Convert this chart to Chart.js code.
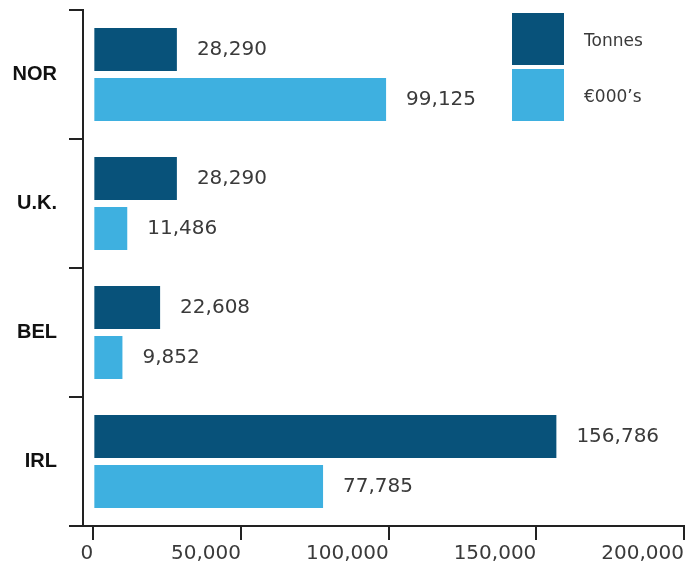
<!DOCTYPE html>
<html>
<head>
<meta charset="utf-8">
<script src="https://cdn.jsdelivr.net/npm/chart.js@4"></script>
<style>
  body { margin: 0; background: #fff; }
</style>
</head>
<body>
<canvas id="myChart" width="689" height="574"></canvas>
<script>
const countries = ['NOR', 'U.K.', 'BEL', 'IRL'];
const tonnes = [28290, 28290, 22608, 156786];
const euros = [99125, 11486, 9852, 77785];
const seriesNames = ['Tonnes', '€000\u2019s'];
const xTicks = [0, 50000, 100000, 150000, 200000];

const DARK = '#08527a';
const LIGHT = '#3eb0e0';
const INK = '#3a3a3a';
const AXIS = '#222';

const fmt = v => v.toLocaleString('en-US');

// value labels to the right of each bar
const valueLabels = {
    id: 'valueLabels',
    afterDatasetsDraw(chart) {
        const ctx = chart.ctx;
        ctx.save();
        ctx.font = '20px "DejaVu Sans"';
        ctx.fillStyle = INK;
        ctx.textAlign = 'left';
        ctx.textBaseline = 'middle';
        chart.data.datasets.forEach((ds, i) => {
            chart.getDatasetMeta(i).data.forEach((bar, j) => {
                ctx.fillText(fmt(ds.data[j]), bar.x + 20, bar.y);
            });
        });
        ctx.restore();
    }
};

// square legend in the top right corner
const boxLegend = {
    id: 'boxLegend',
    afterDraw(chart) {
        const ctx = chart.ctx;
        const area = chart.chartArea;
        const size = 52;
        const x = area.right - 172;
        ctx.save();
        ctx.font = '17px "DejaVu Sans"';
        ctx.textBaseline = 'middle';
        chart.data.datasets.forEach((ds, i) => {
            const y = 13 + i * (size + 4);
            ctx.fillStyle = ds.backgroundColor;
            ctx.fillRect(x, y, size, size);
            ctx.fillStyle = INK;
            ctx.fillText(ds.label, x + size + 20, y + size / 2 + 3);
        });
        ctx.restore();
    }
};

const data = {
    labels: countries,
    datasets: [
        {
            label: seriesNames[0],
            backgroundColor: DARK,
            data: tonnes,
        },
        {
            label: seriesNames[1],
            backgroundColor: LIGHT,
            data: euros,
        }
    ]
};

const config = {
    type: 'bar',
    data: data,
    plugins: [valueLabels, boxLegend],
    options: {
        indexAxis: 'y',
        responsive: false,
        animation: false,
        barPercentage: 0.86,
        categoryPercentage: 0.775,
        layout: {
            autoPadding: false,
            padding: { top: 10, right: 5, left: 0, bottom: 0 }
        },
        plugins: {
            legend: { display: false },
            tooltip: { enabled: false }
        },
        scales: {
            x: {
                min: -3500,
                max: 200000,
                afterBuildTicks: scale => {
                    scale.ticks = xTicks.map(v => ({ value: v }));
                },
                afterFit: scale => {
                    scale.height = 48;
                    scale.paddingLeft = 0;
                    scale.paddingRight = 0;
                },
                grid: {
                    drawOnChartArea: false,
                    drawTicks: true,
                    tickLength: 14,
                    color: AXIS,
                    lineWidth: 2
                },
                border: { display: true, color: AXIS, width: 2 },
                ticks: {
                    align: 'end',
                    padding: 2,
                    color: INK,
                    font: { family: 'DejaVu Sans', size: 20 },
                    callback: v => fmt(v)
                }
            },
            y: {
                afterFit: scale => {
                    scale.width = 83;
                    scale.paddingTop = 0;
                    scale.paddingBottom = 0;
                },
                grid: {
                    drawOnChartArea: false,
                    drawTicks: true,
                    tickLength: 14,
                    color: AXIS,
                    lineWidth: 2
                },
                border: { display: true, color: AXIS, width: 2 },
                ticks: {
                    padding: 12,
                    color: '#111',
                    font: { family: 'Liberation Sans', size: 20, weight: 'bold' }
                }
            }
        }
    }
};

const myChart = new Chart(document.getElementById('myChart'), config);
</script>
</body>
</html>
